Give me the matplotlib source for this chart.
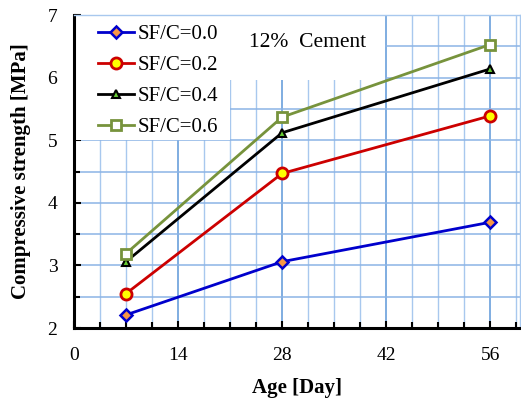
import matplotlib
matplotlib.use("Agg")
import matplotlib.pyplot as plt
from matplotlib.patches import Rectangle
from matplotlib.ticker import MultipleLocator

# data
age_days = [7, 28, 56]
sf_c_00 = [2.21, 3.06, 3.69]
sf_c_02 = [2.55, 4.47, 5.39]
sf_c_04 = [3.06, 5.12, 6.14]
sf_c_06 = [3.19, 5.37, 6.53]
series_labels = ["SF/C=0.0", "SF/C=0.2", "SF/C=0.4", "SF/C=0.6"]

plt.rcParams["font.family"] = "serif"
plt.rcParams["font.serif"] = ["Liberation Serif", "DejaVu Serif"]

fig = plt.figure(figsize=(5.21, 4.08), dpi=100)
ax = fig.add_axes([0.142, 0.196, 0.856, 0.767])

ax.plot(age_days, sf_c_00, color="#0000cc", lw=2, marker="D", ms=6,
        mfc="#f79646", mec="#0000cc", mew=1.8, label=series_labels[0], zorder=4)
ax.plot(age_days, sf_c_02, color="#cc0000", lw=2, marker="o", ms=8,
        mfc="#ffff00", mec="#cc0000", mew=2, label=series_labels[1], zorder=4)
ax.plot(age_days, sf_c_04, color="black", lw=2, marker="^", ms=6,
        mfc="#66cc33", mec="black", mew=1.5, label=series_labels[2], zorder=4)
ax.plot(age_days, sf_c_06, color="#77933c", lw=2, marker="s", ms=7,
        mfc="white", mec="#77933c", mew=2, label=series_labels[3], zorder=4)

ax.set_xlim(0, 60)
ax.set_ylim(2, 7)
ax.xaxis.set_major_locator(MultipleLocator(14))
ax.xaxis.set_minor_locator(MultipleLocator(3.5))
ax.yaxis.set_major_locator(MultipleLocator(1))
ax.yaxis.set_minor_locator(MultipleLocator(0.5))

ax.grid(which="major", axis="x", color="#6a9fdc", lw=1.2)
ax.grid(which="minor", axis="x", color="#a8c8ee", lw=1.0)
ax.grid(which="both", axis="y", color="#8cb4e6", lw=1.1)
ax.set_axisbelow(True)

ax.tick_params(which="both", direction="in", top=False, right=False,
               labelsize=14, width=1.5, color="black")
ax.tick_params(which="major", length=5)
ax.tick_params(which="minor", length=4)
ax.tick_params(axis="x", which="major", pad=14)
ax.tick_params(axis="y", which="major", pad=12)

for side in ["left", "bottom"]:
    ax.spines[side].set_linewidth(2.2)
for side in ["top", "right"]:
    ax.spines[side].set_color("#a8c8ee")
    ax.spines[side].set_linewidth(1)

ax.set_xlabel("Age [Day]", fontsize=15, fontweight="bold", labelpad=10)
ax.set_ylabel("Compressive strength [MPa]", fontsize=15, fontweight="bold", labelpad=12)

# white panels behind the legend and the note
ax.add_patch(Rectangle((0, 0.6), 0.35, 0.4, transform=ax.transAxes,
                       facecolor="white", edgecolor="none", zorder=2.5))
ax.add_patch(Rectangle((0.35, 0.792), 0.347, 0.208, transform=ax.transAxes,
                       facecolor="white", edgecolor="none", zorder=2.5))

leg = ax.legend(loc="upper left", bbox_to_anchor=(0.032, 1.0), fontsize=15,
                frameon=False, borderaxespad=0.15, borderpad=0.3,
                handlelength=1.75, labelspacing=0.55, handletextpad=0.15)
leg.set_zorder(5)

ax.text(0.523, 0.912, "12%  Cement", transform=ax.transAxes, fontsize=15.5,
        va="center", ha="center", zorder=5)

fig.savefig("out.png", dpi=100)
